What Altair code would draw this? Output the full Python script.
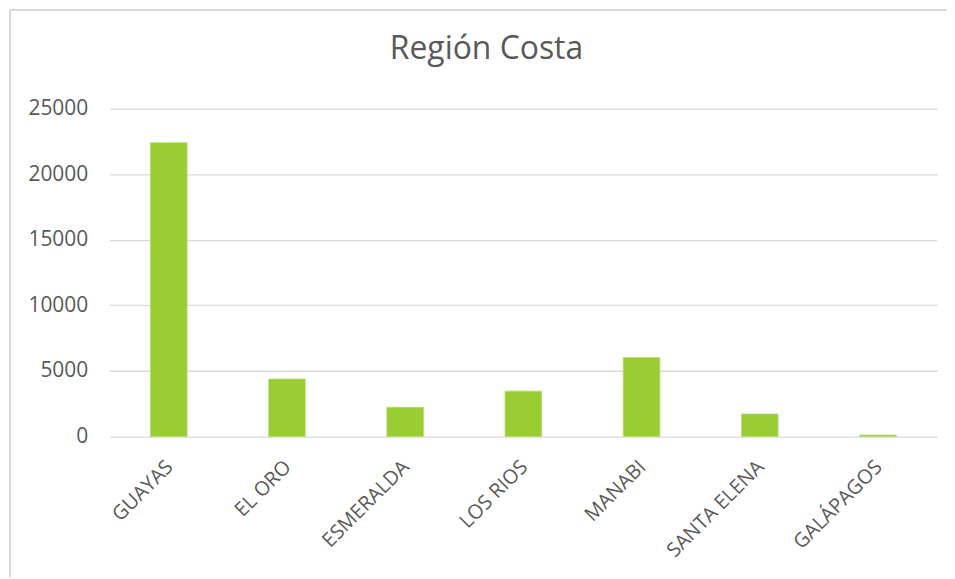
import altair as alt
import pandas as pd

provincias = ["GUAYAS", "EL ORO", "ESMERALDA", "LOS RIOS", "MANABI", "SANTA ELENA", "GALÁPAGOS"]
valores = [22400, 4380, 2230, 3460, 6020, 1720, 110]

df = pd.DataFrame({"provincia": provincias, "valor": valores})

FONT = "Open Sans"
GRAY_TXT = "#595959"
GRID = "#d9d9d9"

bars = alt.Chart(df).mark_bar(color="#9ACD32", stroke="#b5dc74", strokeWidth=0.8).encode(
    x=alt.X(
        "provincia:N",
        sort=provincias,
        title=None,
        scale=alt.Scale(paddingInner=0.69, paddingOuter=0.345),
        axis=alt.Axis(
            labelAngle=-45,
            labelFontSize=20,
            labelFont=FONT,
            labelColor=GRAY_TXT,
            labelPadding=20,
            labelOffset=-6,
            ticks=False,
            tickSize=0,
            domain=False,
            grid=False,
        ),
    ),
    y=alt.Y(
        "valor:Q",
        title=None,
        scale=alt.Scale(domain=[0, 25000], nice=False),
        axis=alt.Axis(
            values=[0, 5000, 10000, 15000, 20000, 25000],
            format="d",
            labelFontSize=21,
            labelFont=FONT,
            labelColor=GRAY_TXT,
            labelPadding=22,
            ticks=False,
            tickSize=0,
            domain=False,
            grid=True,
            gridColor=GRID,
            gridWidth=1.3,
        ),
    ),
)

border_left = alt.Chart(df).mark_rule(color=GRID, strokeWidth=1.5).encode(
    x=alt.value(-100), y=alt.value(-99), y2=alt.value(480)
)
border_top = alt.Chart(df).mark_rule(color=GRID, strokeWidth=1.5).encode(
    x=alt.value(-100), x2=alt.value(860), y=alt.value(-99)
)

chart = alt.layer(border_left, border_top, bars).properties(
    width=830,
    height=329,
    autosize=alt.AutoSizeParams(type="none"),
    padding={"left": 102, "top": 100, "right": 10, "bottom": 140},
    title=alt.TitleParams(
        "Región Costa",
        font=FONT,
        fontSize=32,
        fontWeight="normal",
        color=GRAY_TXT,
        anchor="middle",
        dx=-37,
        offset=-57,
    ),
).configure_view(stroke=None)

chart.save("out.html", embed_options={"renderer": "svg", "actions": False})
